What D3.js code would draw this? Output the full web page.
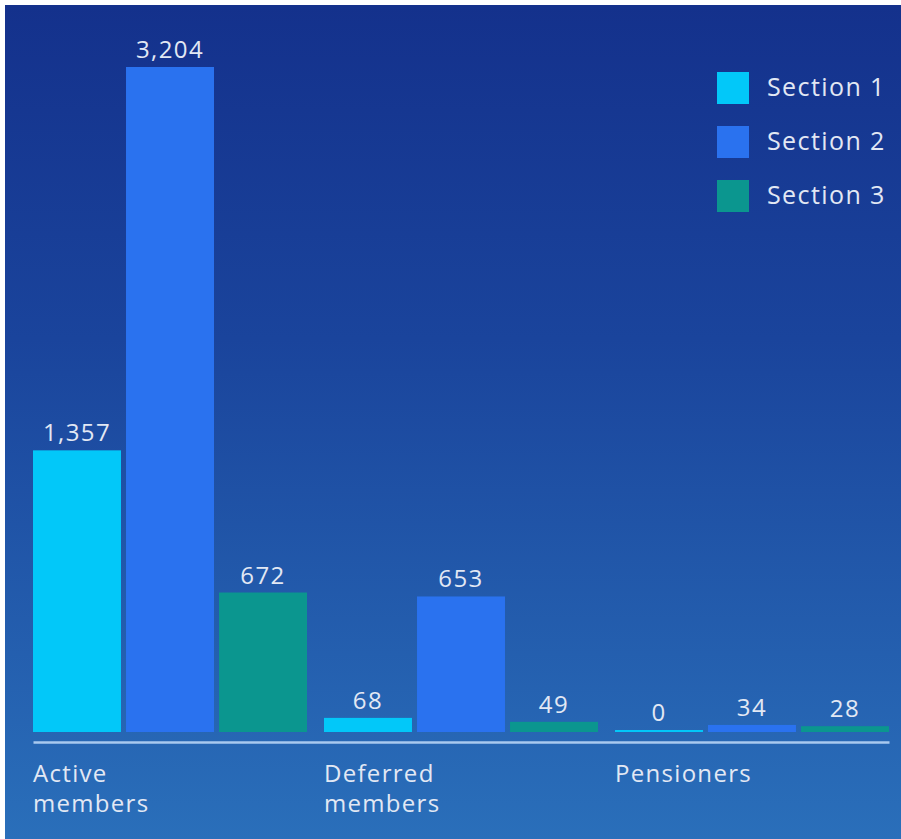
<!DOCTYPE html>
<html><head><meta charset="utf-8">
<script src="https://cdn.jsdelivr.net/npm/d3@7"></script>
<style>
html,body{margin:0;padding:0;background:#ffffff;}
svg{display:block;}
text{font-family:"Open Sans","Noto Sans",sans-serif;fill:#e2e8f4;font-weight:500;}
</style></head>
<body>
<svg id="chart" width="901" height="839"></svg>
<script>
const categories = [["Active","members"],["Deferred","members"],["Pensioners"]];
const sections = ["Section 1","Section 2","Section 3"];
const section1 = [1357, 68, 0];
const section2 = [3204, 653, 34];
const section3 = [672, 49, 28];
const colors = ["#02c8f9","#2a72ef","#0b968f"];

const seriesValues = [section1, section2, section3];
const svg = d3.select("#chart");
const W = 901, H = 839;

const defs = svg.append("defs");
const grad = defs.append("linearGradient").attr("id","bg").attr("x1",0).attr("y1",0).attr("x2",0).attr("y2",1);
grad.append("stop").attr("offset","0%").attr("stop-color","#14318c");
grad.append("stop").attr("offset","40%").attr("stop-color","#1a449c");
grad.append("stop").attr("offset","100%").attr("stop-color","#2a6fba");
svg.append("rect").attr("x",5).attr("y",5).attr("width",W-5).attr("height",H-5).attr("fill","url(#bg)");

const baseY = 732;
const x0 = d3.scaleBand().domain(d3.range(categories.length)).range([33, 889]).paddingInner(0.0584).paddingOuter(0);
const x1 = d3.scaleBand().domain(d3.range(sections.length)).range([0, x0.bandwidth()]).paddingInner(0.054).paddingOuter(0);
const y = d3.scaleLinear().domain([0, 3204]).range([baseY, 67]);
const fmt = d3.format(",");

const groups = svg.append("g").selectAll("g").data(categories).join("g")
  .attr("transform",(d,i)=>`translate(${x0(i)},0)`);

groups.each(function(cat, ci){
  const g = d3.select(this);
  sections.forEach((s, si) => {
    const v = seriesValues[si][ci];
    const top = Math.min(y(v), baseY - 2);
    g.append("rect").attr("x", x1(si)).attr("y", top)
      .attr("width", x1.bandwidth()).attr("height", baseY - top)
      .attr("fill", colors[si]);
    g.append("text").attr("x", x1(si) + x1.bandwidth()/2).attr("y", top - 9)
      .attr("text-anchor","middle").attr("font-size", 24).attr("letter-spacing", 1.4).text(fmt(v));
  });
  const t = g.append("text").attr("x", 0).attr("y", 782).attr("font-size", 24).attr("letter-spacing", 1.3);
  cat.forEach((line, li) => {
    t.append("tspan").attr("x", 0).attr("dy", li === 0 ? 0 : 30).text(line);
  });
});

// axis baseline
const axis = d3.axisBottom(d3.scaleLinear().range([33, 889])).ticks(0).tickSize(0).tickFormat("");
const ax = svg.append("g").attr("transform",`translate(0,742)`).call(axis);
ax.select(".domain").attr("stroke","#a9c9ef").attr("stroke-width",2.5);

// legend
const legend = svg.append("g").attr("transform","translate(717,72)");
sections.forEach((s, i) => {
  const row = legend.append("g").attr("transform",`translate(0,${i*54})`);
  row.append("rect").attr("width",32).attr("height",32).attr("fill",colors[i]);
  row.append("text").attr("x",50).attr("y",24).attr("font-size",25).attr("letter-spacing", 1.4).text(s);
});
</script>
</body></html>
